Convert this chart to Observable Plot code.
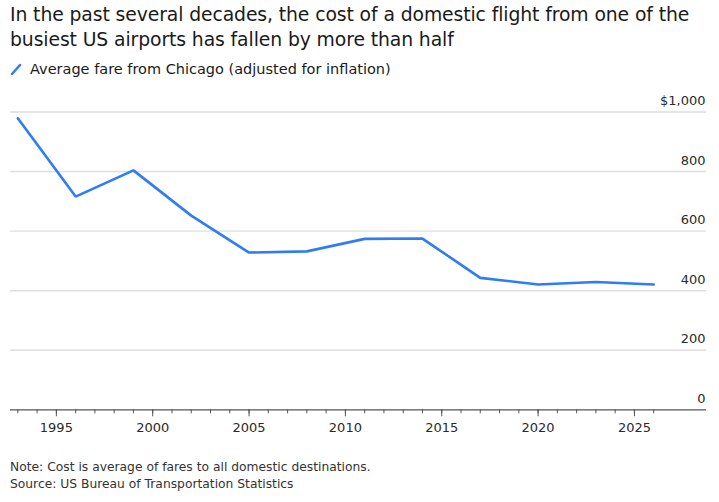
<!DOCTYPE html>
<html>
<head>
<meta charset="utf-8">
<script src="https://cdn.jsdelivr.net/npm/d3@7"></script>
<script src="https://cdn.jsdelivr.net/npm/@observablehq/plot@0.6"></script>
<style>
  html, body { margin: 0; padding: 0; background: #fff; }
  body { width: 719px; height: 502px; overflow: hidden; font-family: "DejaVu Sans", sans-serif; color: #1a1a1a; }
  #title { position: absolute; left: 10px; top: 2px; font-size: 18.8px; line-height: 25px; color: #1a1a1a; letter-spacing: -0.1px; }
  #legend { position: absolute; left: 10px; top: 61px; font-size: 14.5px; color: #1a1a1a; display: flex; align-items: center; }
  #legend svg { margin-right: 8px; }
  #chart { position: absolute; left: 0; top: 85px; }
  #caption { position: absolute; left: 10px; top: 459px; font-size: 12.3px; line-height: 17px; color: #333; }
</style>
</head>
<body>
<div id="title">In the past several decades, the cost of a domestic flight from one of the<br>busiest US airports has fallen by more than half</div>
<div id="legend"><svg width="12" height="12"><line x1="2" y1="11" x2="10" y2="2" stroke="#2e7cf6" stroke-width="2.5" stroke-linecap="round"/></svg>Average fare from Chicago (adjusted for inflation)</div>
<div id="chart"></div>
<div id="caption">Note: Cost is average of fares to all domestic destinations.<br>Source: US Bureau of Transportation Statistics</div>
<script>
const years = [1993, 1996, 1999, 2002, 2005, 2008, 2011, 2014, 2017, 2020, 2023, 2026];
const fares = [979, 716, 804, 652, 528, 532, 574, 575, 443, 421, 429, 421];
const yTicks = [0, 200, 400, 600, 800, 1000];
const yTickLabels = ["0", "200", "400", "600", "800", "$1,000"];
const xMajorTicks = [1995, 2000, 2005, 2010, 2015, 2020, 2025];
const xMinorTicks = d3.range(1993, 2027);

const data = years.map((y, i) => ({year: y, fare: fares[i]}));
const xDomain = [1992.62, 2028.74];

const chart = Plot.plot({
  width: 719,
  height: 360,
  marginLeft: 10,
  marginRight: 13,
  marginTop: 26.5,
  marginBottom: 35.7,
  style: {fontFamily: "DejaVu Sans, sans-serif", background: "#fff"},
  x: {domain: xDomain, axis: null},
  y: {domain: [0, 1000], axis: null},
  marks: [
    Plot.gridY(yTicks.filter(d => d > 0), {stroke: "#dedede", strokeOpacity: 1, strokeWidth: 1.4}),
    Plot.text(yTicks, {
      x: xDomain[1], y: d => d, text: (d, i) => yTickLabels[i],
      textAnchor: "end", dx: -1, dy: -11, fontSize: 13, fill: "#2a2a2a"
    }),
    Plot.ruleY([0], {stroke: "#555", strokeWidth: 1.2}),
    Plot.axisX(xMinorTicks, {tickSize: 4, tickFormat: () => "", stroke: "#555", label: null}),
    Plot.axisX(xMajorTicks, {tickSize: 7, tickPadding: 6, tickFormat: "d", fontSize: 13, fill: "#2a2a2a", stroke: "#555", label: null}),
    Plot.line(data, {x: "year", y: "fare", stroke: "#2e7cf6", strokeWidth: 2.6, strokeLinejoin: "miter"})
  ]
});
document.getElementById("chart").appendChild(chart);
</script>
</body>
</html>
